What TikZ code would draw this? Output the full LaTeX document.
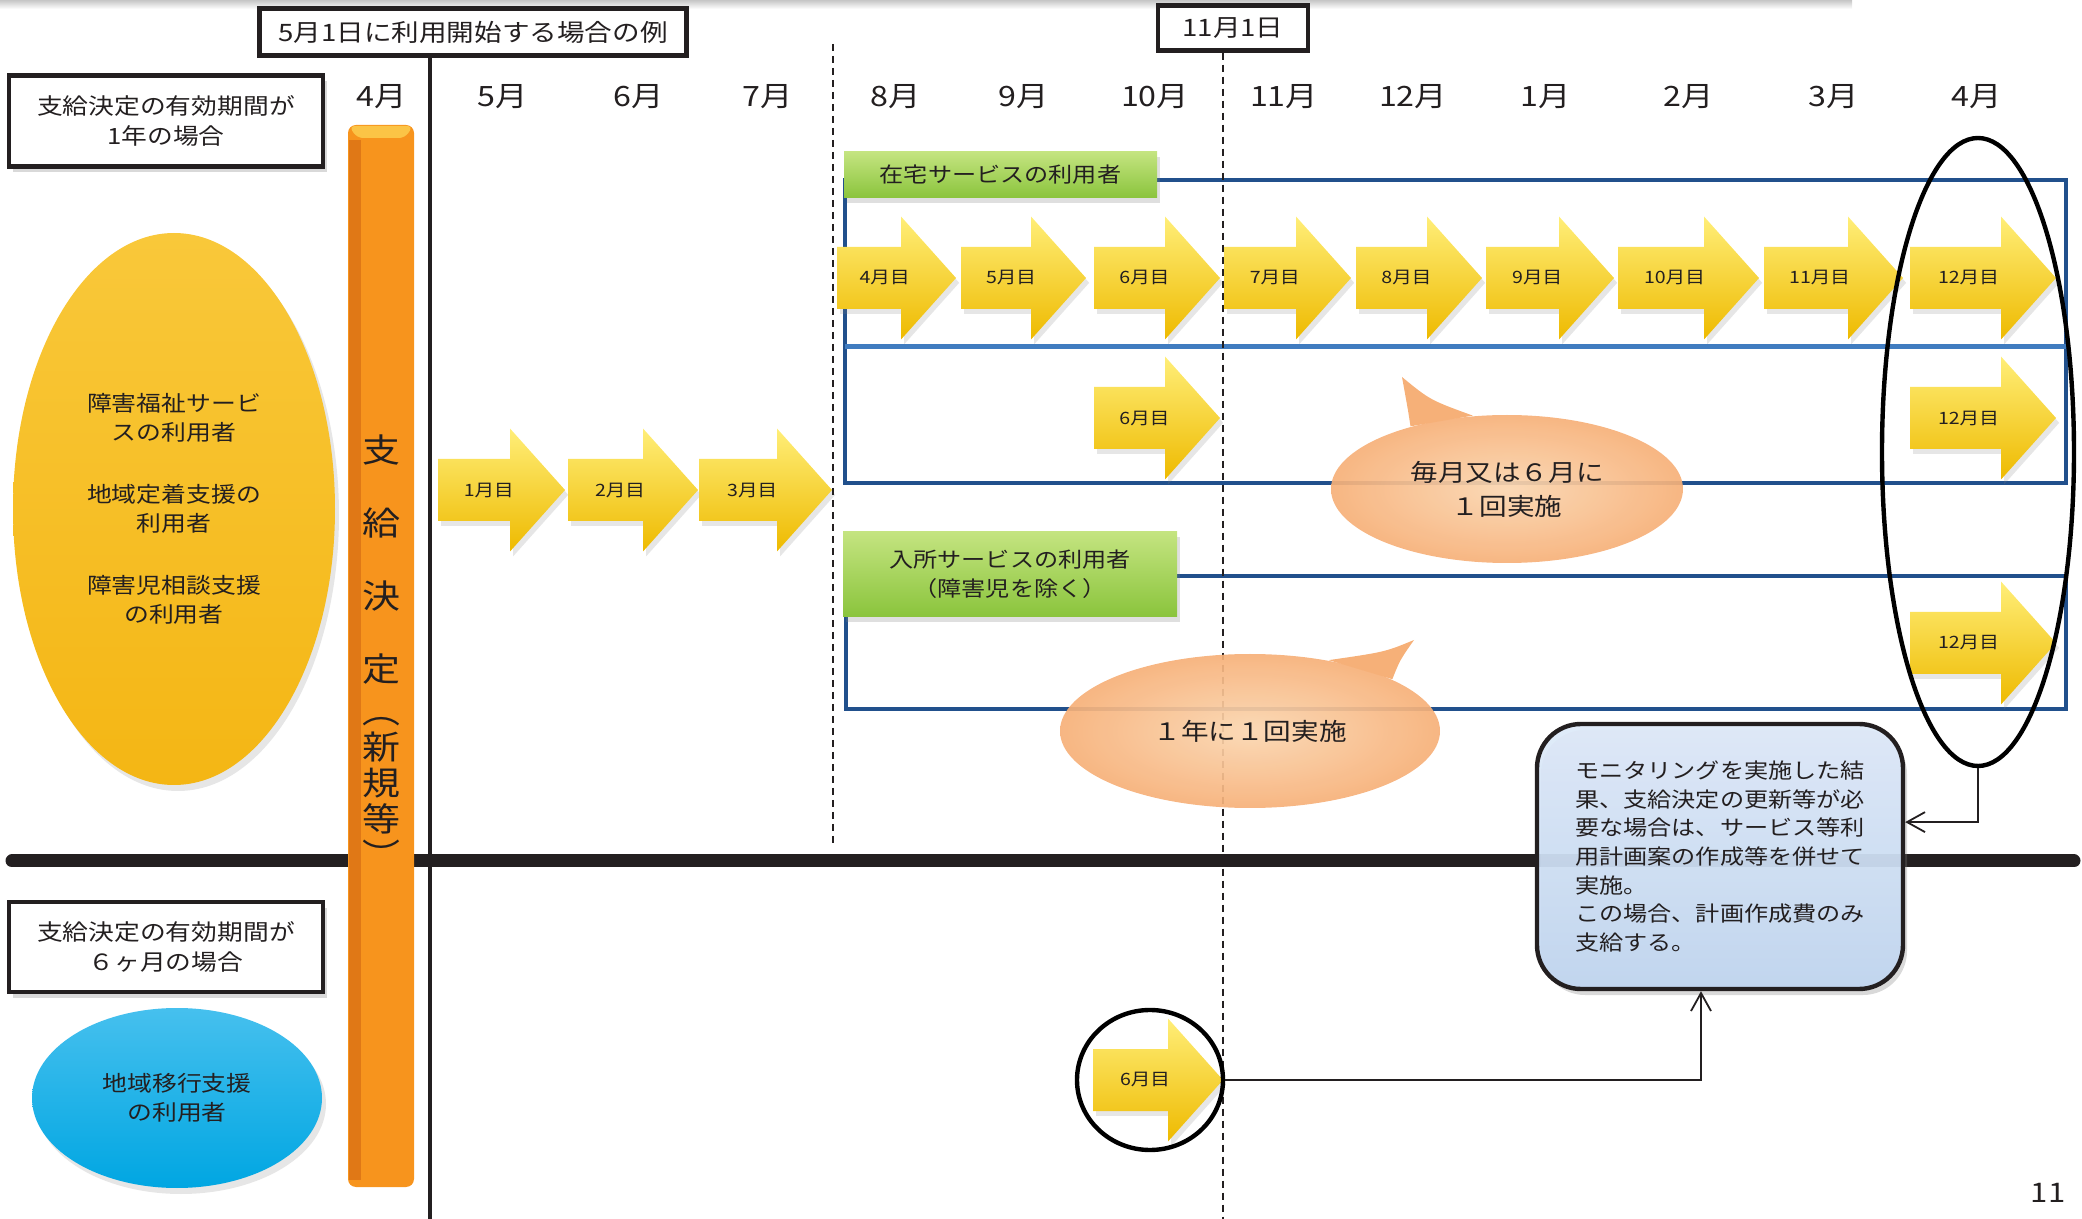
\documentclass[tikz,border=0pt]{standalone}
\usepackage{fontspec}
\setmainfont{Noto Sans CJK JP}[FakeStretch=1.15]
\usepackage{tikz}
\usetikzlibrary{shapes.geometric}
\usetikzlibrary{shadows}
\usetikzlibrary{arrows.meta}
\usetikzlibrary{backgrounds}

\definecolor{ink}{RGB}{35,31,32}
\definecolor{kbar}{RGB}{247,148,29}
\definecolor{kbardark}{RGB}{224,120,22}
\definecolor{kbarlight}{RGB}{251,196,70}
\definecolor{yel}{RGB}{244,182,20}
\definecolor{yellight}{RGB}{249,200,58}
\definecolor{cyanell}{RGB}{0,166,226}
\definecolor{cyanlight}{RGB}{70,192,238}
\definecolor{rowblue}{RGB}{33,80,140}
\definecolor{rowbluelight}{RGB}{64,124,192}
\definecolor{grtop}{RGB}{196,228,128}
\definecolor{grbot}{RGB}{138,196,60}
\definecolor{peach}{RGB}{246,176,120}
\definecolor{peachlight}{RGB}{251,214,176}
\definecolor{arrtop}{RGB}{255,238,120}
\definecolor{arrmid}{RGB}{255,212,0}
\definecolor{arrbot}{RGB}{238,186,0}
\definecolor{notebg}{RGB}{192,213,240}
\definecolor{notetop}{RGB}{222,234,249}

\tikzset{
  pics/marrow/.style 2 args={code={
    \path[marrow body] (0,-31) -- ({#1-55},-31) -- ({#1-55},-61.5) -- (#1,0) -- ({#1-55},61.5) -- ({#1-55},31) -- (0,31) -- cycle;
    \node[marrow text] (-t) at ({0.4*#1},0) {#2};
  }}
}

\begin{document}
\begin{tikzpicture}[x=0.25pt,y=-0.25pt,
  every node/.style={text=ink},
  framebox/.style={draw=ink,line width=1.1pt,fill=white,inner sep=0pt,align=center},
  monthlab/.style={inner sep=0pt,font=\fontsize{7}{8}\selectfont},
  periodbox/.style={framebox,minimum width=78.5pt,drop shadow={opacity=0.3,shadow xshift=1pt,shadow yshift=-1.5pt},font=\fontsize{5.6}{7.5}\selectfont},
  userell/.style={ellipse,inner sep=0pt,align=center,drop shadow={opacity=0.2,shadow xshift=1pt,shadow yshift=-1.5pt},font=\fontsize{5.4}{7.25}\selectfont},
  svcbox/.style={rectangle,inner sep=0pt,align=center,top color=grtop,bottom color=grbot,drop shadow={opacity=0.25,shadow xshift=0.8pt,shadow yshift=-1.2pt},font=\fontsize{5.25}{7.25}\selectfont},
  rowframe/.style={draw=rowblue,line width=1pt},
  marrow body/.style={top color=arrtop,middle color=arrmid,bottom color=arrbot,drop shadow={opacity=0.2,shadow xshift=0.8pt,shadow yshift=-1.2pt}},
  marrow text/.style={inner sep=0pt,font=\fontsize{4.25}{5}\selectfont},
  bubble/.style={ellipse,inner sep=0pt,align=center,inner color=peachlight,outer color=peach,fill opacity=0.92,text opacity=1,font=\fontsize{6}{8.5}\selectfont},
  bubbletail/.style={fill=peach},
  ring/.style={ellipse,draw=black,line width=1.1pt,inner sep=0pt},
  notebox/.style={rectangle,rounded corners=11pt,draw=ink,line width=1.1pt,top color=notetop,bottom color=notebg,fill opacity=0.93,text opacity=1,align=left,drop shadow={opacity=0.3,shadow xshift=1pt,shadow yshift=-1.5pt},font=\fontsize{5.25}{7.15}\selectfont},
  conn/.style={draw=ink,line width=0.45pt,-{Straight Barb[length=4.5pt,width=5pt]}},
  guide line/.style={draw=ink,line width=0.4pt,dash pattern=on 1.75pt off 1.25pt}]
  \useasboundingbox (0,0) rectangle (2082,1219);

  %timeline
  \shade[top color=gray!45,bottom color=white] (0,0) rectangle (1852,9);
  \draw[ink,line width=3.25pt,line cap=round] (12,861) -- (2074,861);
  \fill[kbar,rounded corners=2pt] (348,125) rectangle (414,1187);
  \fill[kbardark] (349,140) rectangle (361,1180);
  \fill[kbarlight,rounded corners=1.5pt] (349,126) -- (413,126) -- (405,138) -- (357,138) -- cycle;
  \node[inner sep=0pt,align=center,font=\fontsize{8.25}{9}\selectfont] (kettei) at (381,651) {支\\[9.25pt]給\\[9.25pt]決\\[9.25pt]定\\[1.5pt]︵\\新\\規\\等\\︶};
  \draw[ink,line width=0.9pt] (430,56) -- (430,1219);
  \node[framebox,minimum width=106.75pt,minimum height=11.75pt,font=\fontsize{6}{7}\selectfont] (startbox) at (473,32) {5月1日に利用開始する場合の例};
  \node[framebox,minimum width=37.5pt,minimum height=11.25pt,font=\fontsize{6}{7}\selectfont] (novbox) at (1233,28) {11月1日};
  \foreach \mx/\mlab in {382/4月,503/5月,639/6月,768/7月,896/8月,1024/9月,1155/10月,1284/11月,1413/12月,1546/1月,1689/2月,1834/3月,1977/4月}
    \node[monthlab] (m\mx) at (\mx,97) {\mlab};

  %left
  \node[periodbox,minimum height=22.75pt] (year) at (166,121) {支給決定の有効期間が\\1年の場合};
  \node[userell,minimum width=80.5pt,minimum height=138pt,top color=yellight,bottom color=yel] (yusers) at (174,509) {障害福祉サービ\\スの利用者\\[8.25pt]地域定着支援の\\利用者\\[8.25pt]障害児相談支援\\の利用者};
  \node[periodbox,minimum height=22.5pt] (half) at (166,947) {支給決定の有効期間が\\６ヶ月の場合};
  \node[userell,minimum width=72.5pt,minimum height=45pt,top color=cyanlight,bottom color=cyanell] (cusers) at (177,1098) {地域移行支援\\の利用者};

  %rows
  \draw[rowframe] (845,180) rectangle (2066,483);
  \draw[rowbluelight,line width=1.25pt] (845,347) -- (2066,347);
  \draw[rowframe] (846,576) rectangle (2066,709);
  \node[svcbox,minimum width=78.25pt,minimum height=11.5pt] (home) at (1000.5,175) {在宅サービスの利用者};
  \node[svcbox,minimum width=83.5pt,minimum height=21.25pt] (inst) at (1010,574.5) {入所サービスの利用者\\（障害児を除く）};

  %arrows
  \pic (first1) at (438,490) {marrow={127}{1月目}};
  \pic (first2) at (568,490) {marrow={130}{2月目}};
  \pic (first3) at (699,490) {marrow={133}{3月目}};
  \pic (home4) at (837,278) {marrow={119}{4月目}};
  \pic (home5) at (961,278) {marrow={125}{5月目}};
  \pic (home6) at (1094,278) {marrow={126}{6月目}};
  \pic (home7) at (1224,278) {marrow={127}{7月目}};
  \pic (home8) at (1356,278) {marrow={126}{8月目}};
  \pic (home9) at (1486,278) {marrow={128}{9月目}};
  \pic (home10) at (1618,278) {marrow={141}{10月目}};
  \pic (home11) at (1764,278) {marrow={139}{11月目}};
  \pic (home12) at (1910,278) {marrow={146}{12月目}};
  \pic (homeb6) at (1094,418) {marrow={126}{6月目}};
  \pic (homeb12) at (1910,418) {marrow={146}{12月目}};
  \pic (inst12) at (1910,643) {marrow={146}{12月目}};
  \pic (trans6) at (1093,1080) {marrow={130}{6月目}};

  \draw[guide line] (833,44) -- (833,843);
  \draw[guide line] (novbox.south -| 1223,0) -- (1223,1219);

  %bubbles
  \node[bubble,minimum width=88pt,minimum height=37pt] (monthly) at (1507,489) {毎月又は６月に\\１回実施};
  \node[bubble,minimum width=95pt,minimum height=38.5pt] (yearly) at (1250,731) {１年に１回実施};
  \begin{pgfonlayer}{background}
    \fill[bubbletail] (monthly.147) .. controls (1408,410) .. (1402,377) .. controls (1430,400) .. (monthly.115) -- cycle;
    \fill[bubbletail] (yearly.42) .. controls (1385,652) .. (1414,640) .. controls (1400,660) .. (yearly.20) -- cycle;
  \end{pgfonlayer}

  %right
  \node[ring,minimum width=48pt,minimum height=157pt] (aprring) at (1978,452) {};
  \node[ring,minimum width=36.5pt,minimum height=35pt] (junring) at (1150,1080) {};
  \node[notebox,minimum width=91.5pt,minimum height=66.25pt] (note) at (1720,856.5) {モニタリングを実施した結\\果、支給決定の更新等が必\\要な場合は、サービス等利\\用計画案の作成等を併せて\\実施。\\この場合、計画作成費のみ\\支給する。};
  \draw[conn] (aprring.south) |- ([yshift=8.6pt]note.east);
  \draw[conn] (junring.east) -| ([xshift=-4.75pt]note.south);

  \node[font=\fontsize{6.75}{8}\selectfont] (pageno) at (2048,1193) {11};
\end{tikzpicture}
\end{document}
